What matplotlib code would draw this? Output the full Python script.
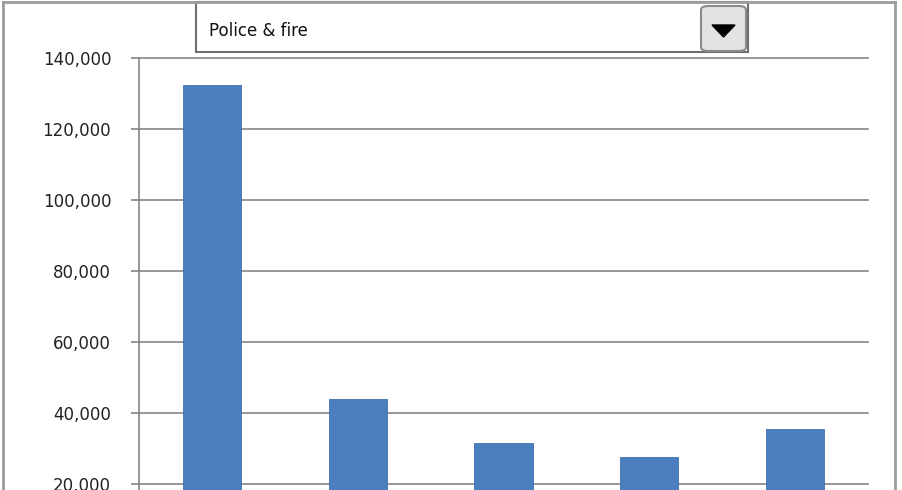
import matplotlib.pyplot as plt
from matplotlib.patches import Rectangle, FancyBboxPatch, Polygon
from matplotlib.lines import Line2D
from matplotlib.ticker import FuncFormatter

# data (category labels sit below the visible crop)
categories = ["Cat 1", "Cat 2", "Cat 3", "Cat 4", "Cat 5"]
values = [132500, 44000, 31500, 27600, 35500]
yticks = [0, 20000, 40000, 60000, 80000, 100000, 120000, 140000]
selected = "Police & fire"

W, H = 903, 490
bar_color = "#4A7EBF"
grid_color = "#858585"


def fx(px):
    return px / W


def fy(py):
    # pixel row (from top) -> figure fraction
    return 1 - py / H


fig = plt.figure(figsize=(W / 100, H / 100), dpi=100)
fig.patch.set_facecolor("white")

# plot area: 140,000 at y=58 px, 0 at y=555 px (below the visible crop)
ax = fig.add_axes([fx(139), fy(555), fx(868 - 139), (555 - 58) / H])
ax.bar(categories, values, width=0.4, color=bar_color,
       edgecolor="#3F6FAA", linewidth=0.6, zorder=3)
ax.set_xlim(-0.5, len(categories) - 0.5)
ax.set_ylim(0, 140000)
ax.set_yticks(yticks)
ax.yaxis.set_major_formatter(FuncFormatter(lambda v, p: f"{int(v):,}"))
ax.yaxis.grid(True, color=grid_color, linewidth=1.2, zorder=0)
for gl in ax.get_ygridlines():
    gl.set_clip_on(False)
ax.set_axisbelow(True)
for s in ["top", "right", "bottom"]:
    ax.spines[s].set_visible(False)
ax.spines["left"].set_color(grid_color)
ax.spines["left"].set_linewidth(1.2)
ax.tick_params(axis="y", length=6, width=1.2, color=grid_color, pad=14,
               labelsize=12, labelcolor="#222222")
ax.tick_params(axis="x", length=0, labelbottom=False)

# outer chart frame
frame_kw = dict(color="#9C9C9C", linewidth=2, transform=fig.transFigure)
fig.add_artist(Line2D([fx(3), fx(3)], [fy(2), 0], **frame_kw))
fig.add_artist(Line2D([fx(3), fx(895)], [fy(2), fy(2)], **frame_kw))
fig.add_artist(Line2D([fx(895), fx(895)], [fy(2), 0], **frame_kw))

# dropdown box
fig.add_artist(Rectangle((fx(196), fy(52)), fx(748 - 196), (52 - 2) / H,
                         transform=fig.transFigure, facecolor="white",
                         edgecolor="#6E6E6E", linewidth=1.5))
fig.text(fx(209), fy(31), selected, fontsize=12, va="center", ha="left",
         color="#111111")
fig.add_artist(FancyBboxPatch((fx(701), fy(51)), fx(746 - 701), (51 - 6) / H,
                              boxstyle="round,pad=0,rounding_size=0.008",
                              transform=fig.transFigure, facecolor="#E3E3E3",
                              edgecolor="#8A8A8A", linewidth=1.5))
fig.add_artist(Polygon([(fx(712), fy(25)), (fx(735), fy(25)), (fx(723.5), fy(37))],
                       closed=True, transform=fig.transFigure,
                       facecolor="black", edgecolor="black"))

plt.savefig("out.png", dpi=100)
plt.close(fig)
